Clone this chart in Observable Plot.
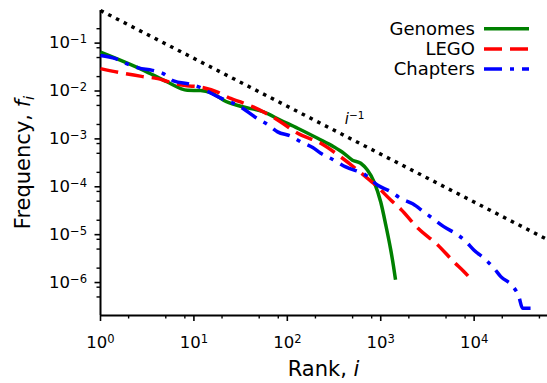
<!DOCTYPE html>
<html><head><meta charset="utf-8">
<script src="https://cdn.jsdelivr.net/npm/d3@7"></script>
<script src="https://cdn.jsdelivr.net/npm/@observablehq/plot@0.6"></script>
<style>
body{margin:0;background:#fff;}
#chart{position:relative;width:547px;height:383px;}
</style>
</head><body><div id="chart"></div>
<script>
// ---- data ----
const seriesNames = ["Genomes", "LEGO", "Chapters"];
const seriesColors = ["#008000", "#ff0000", "#0000ff"];
const seriesDash = [null, "18,8", "18,8,4,8"];

const genomesRank = [1, 2.9, 5.2, 8.5, 11.8, 15.1, 18.4, 20.8, 31.6, 55.7, 85, 129, 211, 316, 404, 498, 611, 720, 848, 1000, 1132, 1280, 1370, 1440];
const genomesFreq = [0.065, 0.027, 0.0154, 0.0104, 0.0102, 0.0092, 0.0075, 0.0064, 0.0048, 0.00365, 0.00245, 0.00167, 0.00103, 0.00068, 0.0005, 0.00036, 0.00031, 0.000223, 0.000127, 4.8e-5, 1.6e-5, 4.8e-6, 2.2e-6, 1.14e-6];

const legoRank = [1, 1.85, 2.75, 4.1, 5.2, 7.75, 11.8, 17.9, 24.7, 31.6, 43.6, 55.7, 85, 129, 228, 373, 657, 884, 1280, 1640, 2490, 4080, 6060, 7750, 9440];
const legoFreq = [0.0293, 0.023, 0.0202, 0.0181, 0.0159, 0.0131, 0.0121, 0.0095, 0.007, 0.0059, 0.0046, 0.00365, 0.00226, 0.00131, 0.00081, 0.00042, 0.000175, 0.000108, 5.3e-5, 3.4e-5, 1.38e-5, 6.1e-6, 2.7e-6, 1.7e-6, 1.14e-6];

const chaptersRank = [1, 1.45, 1.9, 2.55, 3.6, 4.7, 6.05, 9.2, 11.8, 15.1, 20.8, 26.6, 34.1, 45.8, 61.5, 78.7, 109, 139, 187, 228, 300, 422, 690, 929, 1280, 1640, 2200, 2890, 3700, 4730, 6680, 8150, 9920, 13300, 16300, 19300, 26000, 30100, 33000, 42500];
const chaptersFreq = [0.0554, 0.0473, 0.0372, 0.0304, 0.027, 0.023, 0.0163, 0.0138, 0.0118, 0.0091, 0.0067, 0.0055, 0.0042, 0.0028, 0.002, 0.0014, 0.00114, 0.00087, 0.00066, 0.0005, 0.00038, 0.00026, 0.000175, 0.000108, 7.9e-5, 5.7e-5, 4.4e-5, 3.0e-5, 2.1e-5, 1.47e-5, 9.9e-6, 7.2e-6, 4.8e-6, 3.0e-6, 2.0e-6, 1.33e-6, 8.3e-7, 5.1e-7, 2.9e-7, 2.9e-7];

// reference power law i^-1
const refRank = [1, 61000];
const refCoef = 0.48;
const refLabel = "i^-1";
const refLabelRank = [525];
const refLabelFreq = [0.00257];

// axes
const xDomain = [1, 61000];
const yDomain = [2.05e-7, 0.48];
const majorX = [1, 10, 100, 1000, 10000];
const majorY = [1e-6, 1e-5, 1e-4, 1e-3, 1e-2, 1e-1];
const minorSubs = [2, 5, 8];
const xLabel = "Rank, ";
const xLabelVar = "i";
const yLabel = "Frequency, ";
const yLabelVar = "f";
const yLabelSub = "i";

// ---- build ----
const toRows = (name, ranks, freqs) => ranks.map((r, k) => ({series: name, rank: r, freq: freqs[k]}));
const rowsList = [
  toRows(seriesNames[0], genomesRank, genomesFreq),
  toRows(seriesNames[1], legoRank, legoFreq),
  toRows(seriesNames[2], chaptersRank, chaptersFreq)
];
const refRows = refRank.map(r => ({rank: r, freq: refCoef / r}));
const labelRows = refLabelRank.map((r, k) => ({rank: r, freq: refLabelFreq[k], text: refLabel}));

const minorTicks = (lo, hi) => {
  const out = [];
  for (let e = Math.floor(Math.log10(lo)) - 1; e <= Math.ceil(Math.log10(hi)); e++)
    for (const s of minorSubs) { const v = s * Math.pow(10, e); if (v >= lo && v <= hi) out.push(v); }
  return out;
};
const minorX = minorTicks(...xDomain);
const minorY = minorTicks(...yDomain);
const fmt = d => "10^" + Math.round(Math.log10(d));

const lineMarks = rowsList.map((rows, k) => Plot.line(rows, {
  x: "rank", y: "freq", stroke: seriesColors[k], strokeWidth: 3.5,
  strokeDasharray: seriesDash[k] || undefined, strokeLinecap: "butt", strokeLinejoin: "round",
  curve: "monotone-x"
}));

const plot = Plot.plot({
  width: 547, height: 383,
  marginLeft: 100, marginRight: 0, marginTop: 10, marginBottom: 68,
  x: {type: "log", domain: xDomain},
  y: {type: "log", domain: yDomain},
  style: {fontFamily: "'DejaVu Sans', sans-serif", fontSize: "16px", background: "white", color: "black"},
  marks: [
    Plot.axisX({ticks: minorX, tickSize: 3.5, tickFormat: () => "", label: null, strokeWidth: 1.4}),
    Plot.axisX({ticks: majorX, tickSize: 6, tickPadding: 15, tickFormat: fmt, label: null, strokeWidth: 1.6}),
    Plot.axisY({ticks: minorY, tickSize: 3.5, tickFormat: () => "", label: null, strokeWidth: 1.4}),
    Plot.axisY({ticks: majorY, tickSize: 5.5, tickPadding: 8, tickFormat: fmt, label: null, strokeWidth: 1.6}),
    Plot.ruleX([xDomain[0]], {strokeWidth: 2}),
    Plot.ruleY([yDomain[0]], {strokeWidth: 2}),
    ...lineMarks,
    Plot.line(refRows, {x: "rank", y: "freq", stroke: "black", strokeWidth: 3.5, strokeDasharray: "3.5,5.2", strokeLinecap: "butt"}),
    Plot.text(labelRows, {x: "rank", y: "freq", text: "text", textAnchor: "middle"})
  ]
});

// rich text: 10^-1 -> 10 with superscript
const svg = d3.select(plot);
svg.selectAll("text").each(function() {
  const t = d3.select(this);
  const s = this.textContent;
  const m = s.match(/^(10|i)\^(-?\d+)$/);
  if (!m) return;
  this.textContent = "";
  t.style("font-size", m[1] === "i" ? "15px" : "16.5px").style("font-family", "'DejaVu Sans', sans-serif");
  const base = t.append("tspan").text(m[1]);
  if (m[1] === "i") base.style("font-style", "italic");
  t.append("tspan").attr("dy", "-0.45em").style("font-size", "0.7em").text(m[2].replace("-", "\u2212"));
});

// axis labels
const font = "'DejaVu Sans', sans-serif";
svg.append("text").attr("x", (100 + 547) / 2).attr("y", 376).attr("text-anchor", "middle")
  .style("font-family", font).style("font-size", "21px").attr("fill", "black")
  .call(t => { t.append("tspan").text(xLabel); t.append("tspan").style("font-style", "italic").text(xLabelVar); });
svg.append("text").attr("transform", `translate(29.5,${(10 + 315) / 2}) rotate(-90)`).attr("text-anchor", "middle")
  .style("font-family", font).style("font-size", "21px").attr("fill", "black")
  .call(t => {
    t.append("tspan").text(yLabel);
    t.append("tspan").style("font-style", "italic").text(yLabelVar);
    t.append("tspan").style("font-style", "italic").style("font-size", "0.7em").attr("dy", "0.3em").text(yLabelSub);
  });

// legend
const legend = svg.append("g");
seriesNames.forEach((name, k) => {
  const cy = 28.7 + k * 20.2;
  legend.append("text").attr("x", 475).attr("y", cy).attr("dy", "0.35em").attr("text-anchor", "end")
    .style("font-family", font).style("font-size", "18px").attr("fill", "black").text(name);
  legend.append("line").attr("x1", 484).attr("x2", 529).attr("y1", cy).attr("y2", cy)
    .attr("stroke", seriesColors[k]).attr("stroke-width", 3.5)
    .attr("stroke-dasharray", seriesDash[k]).attr("stroke-linecap", "butt");
});

document.getElementById("chart").appendChild(plot);
</script>
</body></html>
